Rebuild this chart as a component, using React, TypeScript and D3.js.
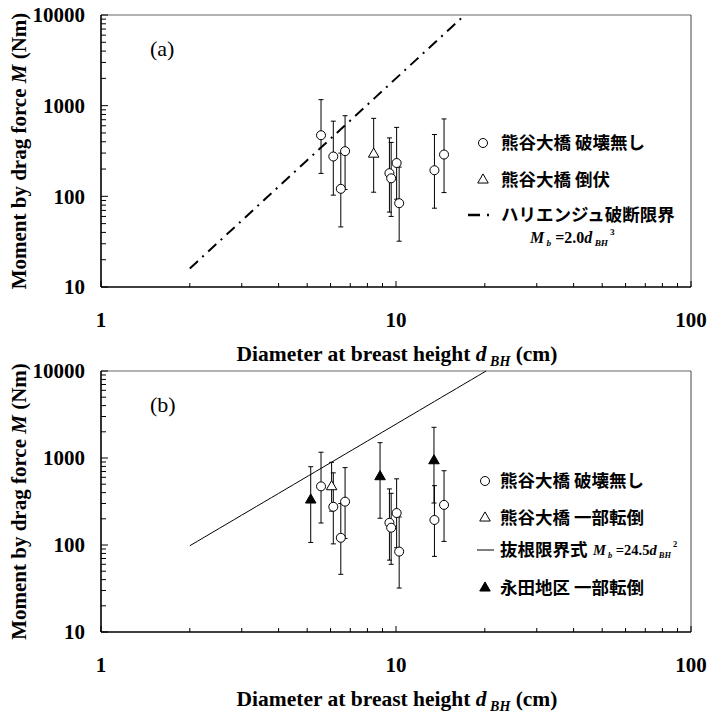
import * as d3 from "d3";

// 熊谷大橋 破壊無し (shared by both panels)
const circleD = [5.57, 6.13, 6.5, 6.72, 9.5, 9.63, 10.05, 10.25, 13.5, 14.55];
const circleM = [472, 275, 121, 315, 180, 158, 233, 84, 194, 289];
const circleLo = [179, 103, 46, 119, 67, 60, 93, 32, 74, 110];
const circleHi = [1165, 675, 300, 775, 441, 393, 576, 210, 481, 714];

// (a) 熊谷大橋 倒伏
const fallD = [8.4];
const fallM = [292];
const fallLo = [111];
const fallHi = [725];

// (b) 熊谷大橋 一部転倒
const partD = [6.05];
const partM = [468];
const partLo = [245];
const partHi = [892];

// (b) 永田地区 一部転倒
const nagataD = [5.14, 8.83, 13.45];
const nagataM = [329, 610, 930];
const nagataLo = [107, 203, 304];
const nagataHi = [794, 1500, 2253];

// limit curves M = k * d^p, drawn from d = 2
const breakK = 2.0, breakP = 3;
const uprootK = 24.5, uprootP = 2;

const xTickLabels = [1, 10, 100];
const yTickLabels = [10, 100, 1000, 10000];

const W = 726, H = 713;
const left = 101, right = 691;
const serif = "Liberation Serif, Times New Roman, DejaVu Serif, serif";
const jp = "Noto Sans CJK JP, Noto Sans CJK SC, sans-serif";

const x = d3.scaleLog().domain([1, 100]).range([left, right]);

const isDecade = (v) => Math.abs(Math.log10(v) - Math.round(Math.log10(v))) < 1e-9;

function ErrorBars({ y, ds, lo, hi }) {
  return (
    <g stroke="#000" strokeWidth={1}>
      {ds.map((d, i) => {
        const cx = x(d);
        return (
          <g key={i}>
            <line x1={cx} x2={cx} y1={y(lo[i])} y2={y(hi[i])} />
            <line x1={cx - 2.5} x2={cx + 2.5} y1={y(lo[i])} y2={y(lo[i])} />
            <line x1={cx - 2.5} x2={cx + 2.5} y1={y(hi[i])} y2={y(hi[i])} />
          </g>
        );
      })}
    </g>
  );
}

const triPath = d3.symbol(d3.symbolTriangle, 48)();

function Circles({ y, ds, ms }) {
  return ds.map((d, i) => (
    <circle key={i} cx={x(d)} cy={y(ms[i])} r={4.5} fill="#fff" stroke="#000" strokeWidth={1} />
  ));
}

function Triangles({ y, ds, ms, filled }) {
  return ds.map((d, i) => (
    <path key={i} d={triPath} transform={`translate(${x(d)},${y(ms[i])})`}
      fill={filled ? "#000" : "#fff"} stroke="#000" strokeWidth={1} />
  ));
}

function Formula({ xPos, yPos, size, k, p }) {
  const sub = size * 0.58;
  return (
    <text x={xPos} y={yPos} style={{ fontFamily: serif }} fontWeight="bold" fontSize={size}>
      <tspan fontStyle="italic">M</tspan>
      <tspan fontStyle="italic" fontSize={sub} dy={3}> b</tspan>
      <tspan dy={-3}> ={k.toFixed(1)}</tspan>
      <tspan fontStyle="italic">d</tspan>
      <tspan fontStyle="italic" fontSize={sub} dy={3}> BH</tspan>
      <tspan fontSize={sub} dy={-11} dx={2}>{p}</tspan>
    </text>
  );
}

function Panel({ top, bottom, tag, children }) {
  const y = d3.scaleLog().domain([10, 10000]).range([bottom, top]);
  const mid = (top + bottom) / 2;
  return (
    <g>
      {/* frame */}
      <line x1={left} x2={right} y1={top} y2={top} stroke="#666" strokeWidth={1} />
      <line x1={right} x2={right} y1={top} y2={bottom} stroke="#444" strokeWidth={1} />
      {/* ticks */}
      {x.ticks().map((v, i) => (
        <line key={"x" + i} x1={x(v)} x2={x(v)} y1={bottom} y2={bottom - (isDecade(v) ? 6 : 4)}
          stroke="#000" strokeWidth={1} />
      ))}
      {y.ticks().map((v, i) => (
        <line key={"y" + i} x1={left} x2={left + (isDecade(v) ? 7 : 5)} y1={y(v)} y2={y(v)}
          stroke="#000" strokeWidth={1} />
      ))}
      <line x1={left} x2={left} y1={top} y2={bottom} stroke="#000" strokeWidth={1.6} />
      <line x1={left} x2={right} y1={bottom} y2={bottom} stroke="#000" strokeWidth={1.6} />
      <g style={{ fontFamily: serif }} fontWeight="bold" fontSize={21}>
        {/* tick labels */}
        {yTickLabels.map((v) => (
          <text key={v} x={85} y={y(v)} dy="0.35em" textAnchor="end">{v}</text>
        ))}
        {xTickLabels.map((v) => (
          <text key={v} x={x(v)} y={bottom + 33} dy="0.35em" textAnchor="middle">{v}</text>
        ))}
        {/* axis titles */}
        <text transform={`translate(26,${mid}) rotate(-90)`} textAnchor="middle">
          Moment by drag force <tspan fontStyle="italic">M</tspan> (Nm)
        </text>
        <text x={397} y={bottom + 74} textAnchor="middle" fontSize={21.5}>
          Diameter at breast height <tspan fontStyle="italic">d</tspan>
          <tspan fontStyle="italic" fontSize={14} dy={5}> BH</tspan>
          <tspan dy={-5}>  (cm)</tspan>
        </text>
      </g>
      <text x={150} y={top + 41} style={{ fontFamily: serif }} fontSize={22}>{tag}</text>
      {children(y)}
    </g>
  );
}

function limitLine(y, k, p) {
  const dEnd = Math.pow(10000 / k, 1 / p);
  const pts = d3.range(0, 41).map((i) => 2 * Math.pow(dEnd / 2, i / 40));
  return d3.line().x((d) => x(d)).y((d) => y(k * Math.pow(d, p)))(pts);
}

export default function App() {
  return (
    <svg width={W} height={H} style={{ position: "absolute", left: 0, top: 0, background: "#fff" }}>
      <rect width={W} height={H} fill="#fff" />
      <Panel top={15} bottom={287} tag="(a)">
        {(y) => (
          <g>
            <path d={limitLine(y, breakK, breakP)} fill="none" stroke="#000" strokeWidth={2}
              strokeDasharray="11,6,2,6" />
            <ErrorBars y={y} ds={circleD} lo={circleLo} hi={circleHi} />
            <ErrorBars y={y} ds={fallD} lo={fallLo} hi={fallHi} />
            <Circles y={y} ds={circleD} ms={circleM} />
            <Triangles y={y} ds={fallD} ms={fallM} filled={false} />
            {/* legend */}
            <g style={{ fontFamily: jp }} fontWeight="bold" fontSize={17.5}>
              <circle cx={483} cy={143} r={4.5} fill="#fff" stroke="#000" />
              <text x={501} y={143} dy="0.35em">熊谷大橋 破壊無し</text>
              <path d={triPath} transform="translate(483,180)" fill="#fff" stroke="#000" />
              <text x={501} y={180} dy="0.35em">熊谷大橋 倒伏</text>
              <line x1={468} x2={494} y1={215} y2={215} stroke="#000" strokeWidth={2.5} strokeDasharray="12,7,2,6" />
              <text x={501} y={215} dy="0.35em">ハリエンジュ破断限界</text>
            </g>
            <Formula xPos={530} yPos={243} size={16} k={breakK} p={breakP} />
          </g>
        )}
      </Panel>
      <Panel top={371} bottom={632} tag="(b)">
        {(y) => (
          <g>
            <path d={limitLine(y, uprootK, uprootP)} fill="none" stroke="#000" strokeWidth={1} />
            <ErrorBars y={y} ds={circleD} lo={circleLo} hi={circleHi} />
            <ErrorBars y={y} ds={partD} lo={partLo} hi={partHi} />
            <ErrorBars y={y} ds={nagataD} lo={nagataLo} hi={nagataHi} />
            <Circles y={y} ds={circleD} ms={circleM} />
            <Triangles y={y} ds={partD} ms={partM} filled={false} />
            <Triangles y={y} ds={nagataD} ms={nagataM} filled={true} />
            {/* legend */}
            <g style={{ fontFamily: jp }} fontWeight="bold" fontSize={17.5}>
              <circle cx={485} cy={481} r={4.5} fill="#fff" stroke="#000" />
              <text x={500} y={481} dy="0.35em">熊谷大橋 破壊無し</text>
              <path d={triPath} transform="translate(485,518)" fill="#fff" stroke="#000" />
              <text x={500} y={518} dy="0.35em">熊谷大橋 一部転倒</text>
              <line x1={477} x2={494} y1={550} y2={550} stroke="#000" strokeWidth={1} />
              <text x={500} y={550} dy="0.35em">抜根限界式</text>
              <path d={triPath} transform="translate(485,588)" fill="#000" stroke="#000" />
              <text x={500} y={588} dy="0.35em">永田地区 一部転倒</text>
            </g>
            <Formula xPos={593} yPos={555} size={14.5} k={uprootK} p={uprootP} />
          </g>
        )}
      </Panel>
    </svg>
  );
}
